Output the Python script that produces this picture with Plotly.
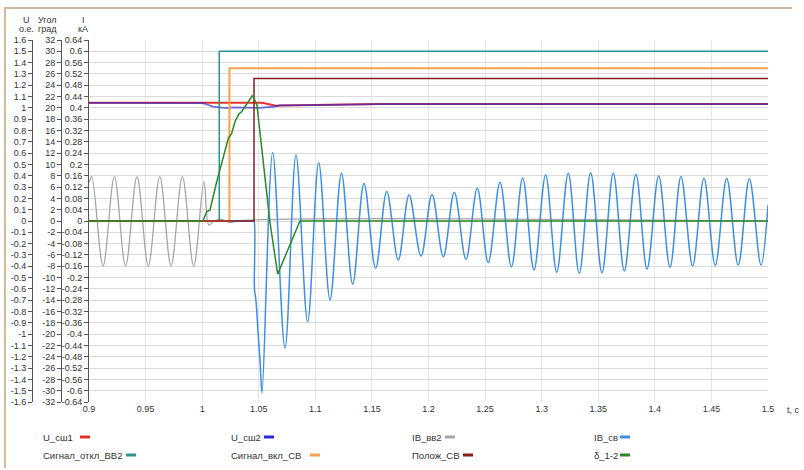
import plotly.graph_objects as go

W, H = 804, 470

# ---- data -------------------------------------------------------------
# bus voltages, p.u.
t_u2 = [0.9, 1.0007, 1.0095, 1.0214, 1.027, 1.0445, 1.0508, 1.0623, 1.0685,
        1.0977, 1.1242, 1.1569, 1.5]
u_u2 = [1.045, 1.042, 1.012, 0.998, 1.004, 1.004, 1.0, 1.01, 1.022,
        1.025, 1.031, 1.034, 1.034]
t_u1 = [0.9, 1.053, 1.0661, 1.0685, 1.0977, 1.1242, 1.1569, 1.5]
u_u1 = [1.045, 1.045, 1.017, 1.022, 1.025, 1.031, 1.034, 1.034]

# incoming breaker VV2 current, kA
t_ivv2 = [0.9, 0.9024, 0.9124, 0.9224, 0.9323, 0.9424, 0.9524, 0.9625, 0.9725,
          0.9825, 0.9925, 1.0016, 1.006, 1.0105, 1.0172, 1.0244, 1.03, 1.5]
i_ivv2 = [0.134, 0.157, -0.159, 0.157, -0.159, 0.157, -0.159, 0.157, -0.159,
          0.157, -0.159, 0.139, -0.014, 0.0, 0.006, -0.006, 0.0, 0.0]

# sectional breaker current, kA
t_isv = [0.9, 1.045, 1.0458, 1.0462, 1.0475, 1.0495, 1.0512, 1.0529,
         1.0623, 1.0732, 1.0829, 1.0932, 1.103, 1.113, 1.1231, 1.133, 1.143,
         1.1533, 1.1631, 1.1733, 1.1828, 1.1934, 1.2031, 1.2131, 1.2228, 1.2331,
         1.2431, 1.2528, 1.2632, 1.2733, 1.2832, 1.2932, 1.3035, 1.3133, 1.3235,
         1.3332, 1.3433, 1.3533, 1.3633, 1.373, 1.3833, 1.3931, 1.4034, 1.4134,
         1.4231, 1.4334, 1.4434, 1.4534, 1.4635, 1.4737, 1.4835, 1.4938, 1.5]
i_isv = [0.0, 0.0, 0.0, -0.24, -0.28, -0.40, -0.50, -0.608,
         0.242, -0.449, 0.233, -0.356, 0.206, -0.279, 0.169, -0.223, 0.133,
         -0.167, 0.104, -0.138, 0.092, -0.124, 0.094, -0.126, 0.102, -0.135,
         0.116, -0.147, 0.137, -0.162, 0.152, -0.173, 0.163, -0.181, 0.169,
         -0.185, 0.171, -0.183, 0.169, -0.176, 0.165, -0.170, 0.160, -0.164,
         0.157, -0.159, 0.151, -0.157, 0.151, -0.156, 0.149, -0.156, 0.057]

# discrete signals (drawn on the p.u. scale)
t_off_vv2 = [0.9, 1.0151, 1.0151, 1.5]
s_off_vv2 = [0.0, 0.0, 1.5, 1.5]
t_on_sv = [0.9, 1.0241, 1.0241, 1.5]
s_on_sv = [0.0, 0.0, 1.35, 1.35]
t_pos_sv = [0.9, 1.0458, 1.0458, 1.5]
s_pos_sv = [0.0, 0.0, 1.26, 1.26]

# angle between buses, degrees
t_delta = [0.9, 1.0007, 1.004, 1.0069, 1.0128, 1.0187, 1.0231, 1.0261, 1.029,
           1.0328, 1.0349, 1.0378, 1.0408, 1.0445, 1.0484, 1.0599, 1.0667,
           1.0864, 1.5]
d_delta = [0.0, 0.0, 1.64, 1.95, 6.9, 11.1, 14.6, 15.5, 17.6,
           19.0, 19.3, 20.2, 21.1, 22.2, 20.5, -0.2, -9.4,
           0.0, 0.0]

# axis ticks
u_ticks = [round(-1.6 + 0.1 * k, 1) for k in range(33)]
ang_ticks = [-32 + 2 * k for k in range(33)]
i_ticks = [round(-0.64 + 0.04 * k, 2) for k in range(33)]

legend_names = ["U_сш1", "U_сш2", "IB_вв2", "IB_св",
                "Сигнал_откл_ВВ2", "Сигнал_вкл_СВ", "Полож_СВ", "δ_1-2"]
colors = ["#e8322c", "#2a2ad0", "#a6a6a6", "#3d8fe6",
          "#2b9494", "#f7a24a", "#8b1c1c", "#2a8a2a"]


def fmt(v):
    s = ("%g" % v)
    return "0" if s in ("-0", "0") else s


def px(x):
    return x / W


def py(y):
    return 1 - y / H


TICK_FONT = dict(family="Liberation Sans Narrow, Liberation Sans, Arial", size=9, color="#333")
TEXT_FONT = dict(family="Liberation Sans, Arial", size=9.5, color="#333")

fig = go.Figure()

# layers: y = currents (bottom), y2 = voltages and signals, y3 = angle (top)
fig.add_trace(go.Scatter(x=t_ivv2, y=i_ivv2, mode="lines", yaxis="y",
                         line=dict(color=colors[2], width=1.3, shape="spline")))
fig.add_trace(go.Scatter(x=t_isv, y=i_isv, mode="lines", yaxis="y",
                         line=dict(color=colors[3], width=1.5, shape="spline")))
fig.add_trace(go.Scatter(x=t_u1, y=u_u1, mode="lines", yaxis="y2",
                         line=dict(color=colors[0], width=2)))
fig.add_trace(go.Scatter(x=t_u2, y=u_u2, mode="lines", yaxis="y2", opacity=0.65,
                         line=dict(color=colors[1], width=1.8)))
fig.add_trace(go.Scatter(x=t_off_vv2, y=s_off_vv2, mode="lines", yaxis="y2",
                         line=dict(color=colors[4], width=1.5)))
fig.add_trace(go.Scatter(x=t_on_sv, y=s_on_sv, mode="lines", yaxis="y2",
                         line=dict(color=colors[5], width=2)))
fig.add_trace(go.Scatter(x=t_pos_sv, y=s_pos_sv, mode="lines", yaxis="y2",
                         line=dict(color=colors[6], width=1.5)))
fig.add_trace(go.Scatter(x=t_delta, y=d_delta, mode="lines", yaxis="y3",
                         line=dict(color=colors[7], width=1.5)))

axis_style = dict(showline=True, linecolor="#555", linewidth=1,
                  ticks="outside", ticklen=4, tickcolor="#555",
                  tickfont=TICK_FONT, zeroline=False, anchor="free",
                  domain=[py(402), py(40)], automargin=False)

fig.update_layout(
    width=W, height=H,
    margin=dict(l=0, r=0, t=0, b=0),
    paper_bgcolor="white", plot_bgcolor="white",
    showlegend=False,
    xaxis=dict(domain=[px(89), px(768)], range=[0.9, 1.5], tick0=0.9, dtick=0.05,
               showgrid=True, gridcolor="#e6e6e6", gridwidth=1, zeroline=False,
               showline=False, ticks="", tickfont=TICK_FONT, automargin=False),
    yaxis=dict(range=[-0.64, 0.64], tickvals=i_ticks, ticktext=[fmt(v) for v in i_ticks],
               position=px(88), showgrid=True, gridcolor="#dadada", **axis_style),
    yaxis2=dict(range=[-1.6, 1.6], tickvals=u_ticks, ticktext=[fmt(v) for v in u_ticks],
                position=px(32), overlaying="y", showgrid=False, **axis_style),
    yaxis3=dict(range=[-32, 32], tickvals=ang_ticks, ticktext=[fmt(v) for v in ang_ticks],
                position=px(61), overlaying="y", showgrid=False, **axis_style),
)

annotations = []
# axis captions
for x, txt1, txt2 in [(26, "U", "о.е."), (47, "Угол", "град"), (83, "I", "кА")]:
    annotations.append(dict(x=px(x), y=py(20), xref="paper", yref="paper", text=txt1,
                            showarrow=False, font=TICK_FONT, xanchor="center", yanchor="middle"))
    annotations.append(dict(x=px(x), y=py(29), xref="paper", yref="paper", text=txt2,
                            showarrow=False, font=TICK_FONT, xanchor="center", yanchor="middle"))
annotations.append(dict(x=px(785), y=py(410), xref="paper", yref="paper", text="t, c",
                        showarrow=False, font=TICK_FONT, xanchor="left", yanchor="middle"))

# legend: name followed by a short colour bar
shapes = []
text_x = [41, 229, 410, 592, 41, 229, 410, 592]
swatch_x = [80, 264, 445, 620, 126, 310, 463, 620]
row_y = [437, 455]
for k, (name, c) in enumerate(zip(legend_names, colors)):
    y0 = row_y[k // 4]
    annotations.append(dict(x=px(text_x[k]), y=py(y0), xref="paper", yref="paper", text=name,
                            showarrow=False, font=TEXT_FONT, xanchor="left", yanchor="middle"))
    shapes.append(dict(type="line", xref="paper", yref="paper",
                       x0=px(swatch_x[k]), x1=px(swatch_x[k] + 10), y0=py(y0), y1=py(y0),
                       line=dict(color=c, width=3)))

# frame of the chart panel
shapes.append(dict(type="path", xref="paper", yref="paper",
                   path="M %f %f L %f %f L %f %f" % (px(5), py(468), px(5), py(8), px(792), py(8)),
                   line=dict(color="#d6b99c", width=2)))

fig.update_layout(annotations=annotations, shapes=shapes)

fig.write_html("out.html")
